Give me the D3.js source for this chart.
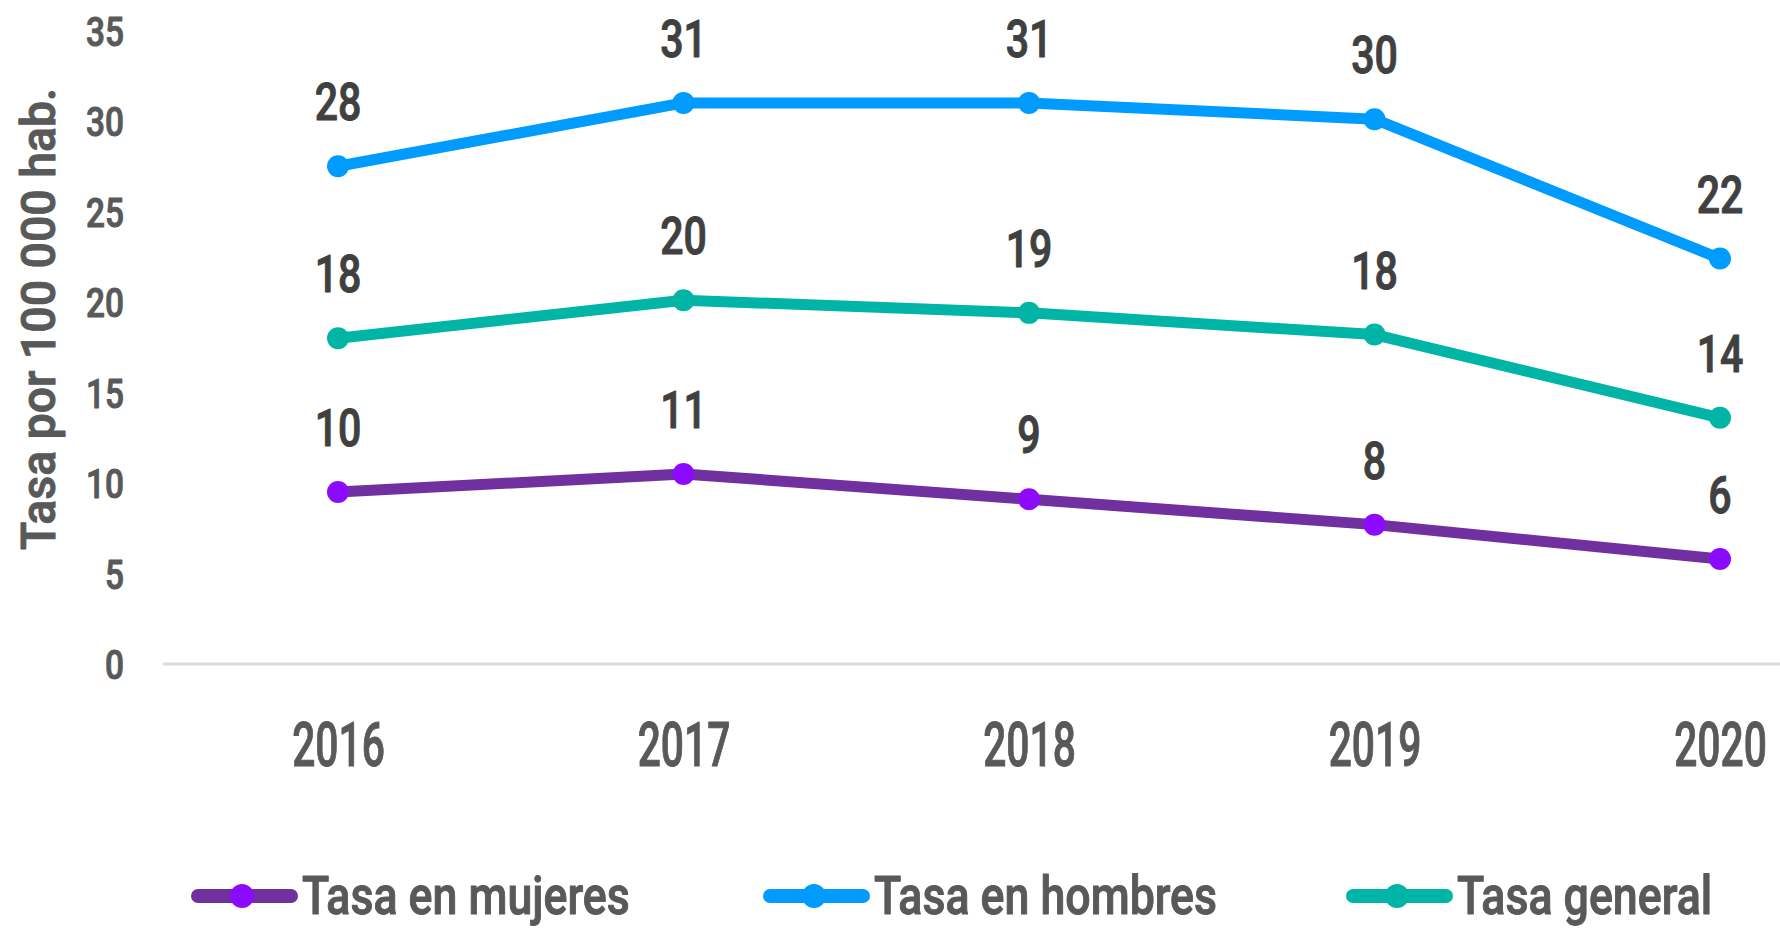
<!DOCTYPE html>
<html>
<head>
<meta charset="utf-8">
<script src="https://cdn.jsdelivr.net/npm/d3@7"></script>
<style>
  body { margin: 0; background: #fff; }
  svg text { font-family: "Roboto", "DejaVu Sans Condensed", sans-serif; font-weight: 500; stroke-width: 1px; stroke-linejoin: round; }
</style>
</head>
<body>
<div id="chart"></div>
<script>
// data
var years = [2016, 2017, 2018, 2019, 2020];
var mujeres = [9.5, 10.5, 9.1, 7.7, 5.8];
var hombres = [27.5, 31.0, 31.0, 30.1, 22.4];
var general = [18.0, 20.1, 19.4, 18.2, 13.6];
var yTicks = [0, 5, 10, 15, 20, 25, 30, 35];
var names = ["Tasa en mujeres", "Tasa en hombres", "Tasa general"];
var lineColors = ["#7030a0", "#009bff", "#00b5a6"];
var dotColors = ["#8c0bff", "#009bff", "#00b5a6"];

var width = 1780, height = 928;

var x = d3.scalePoint().domain(years).range([338, 1720]);
var y = d3.scaleLinear().domain([0, 35]).range([664, 30.5]);

var svg = d3.select("#chart").append("svg")
    .attr("width", width)
    .attr("height", height);

// measure a string in a given size and return horizontal squeeze to hit target width
function squeeze(str, size, target) {
  var t = svg.append("text").attr("font-size", size).text(str);
  var w = t.node().getComputedTextLength();
  t.remove();
  return target / w;
}

var sData = squeeze("20", 52, 46.7),
    sYear = squeeze("2017", 62, 92.7),
    sTick = squeeze("30", 41, 38),
    sLeg = squeeze("Tasa en mujeres", 54, 334),
    sTitle = squeeze("Tasa por 100 000 hab.", 49, 462);

// baseline
svg.append("line")
    .attr("x1", 163).attr("x2", width)
    .attr("y1", y(0)).attr("y2", y(0))
    .attr("stroke", "#d9d9d9")
    .attr("stroke-width", 3);

// y axis
var yAxis = svg.append("g")
    .attr("transform", "translate(124,0)")
    .call(d3.axisLeft(y).tickValues(yTicks).tickSize(0).tickPadding(0));
yAxis.select(".domain").remove();
yAxis.selectAll("text")
    .attr("x", 0).attr("dy", "0.36em")
    .attr("font-size", 41)
    .attr("fill", "#595959")
    .attr("stroke", "#595959")
    .attr("transform", "scale(" + sTick + ",1)");

// x axis
var xAxis = svg.append("g")
    .attr("transform", "translate(0,766)")
    .call(d3.axisBottom(x).tickSize(0).tickPadding(0).tickFormat(d3.format("d")));
xAxis.select(".domain").remove();
xAxis.selectAll("text")
    .attr("y", 0).attr("dy", 0)
    .attr("font-size", 62)
    .attr("fill", "#595959")
    .attr("stroke", "#595959")
    .attr("transform", "scale(" + sYear + ",1)");

// axis title
svg.append("text")
    .attr("transform", "translate(55,319) rotate(-90) scale(" + sTitle + ",1)")
    .attr("text-anchor", "middle")
    .attr("font-size", 49)
    .attr("fill", "#595959")
    .attr("stroke", "#595959")
    .text("Tasa por 100 000 hab.");

var series = [mujeres, hombres, general];

var line = d3.line()
    .x(function(d, i) { return x(years[i]); })
    .y(function(d) { return y(d); });

series.forEach(function(vals, k) {
  var g = svg.append("g");
  g.append("path")
      .datum(vals)
      .attr("d", line)
      .attr("fill", "none")
      .attr("stroke", lineColors[k])
      .attr("stroke-width", 11)
      .attr("stroke-linejoin", "round")
      .attr("stroke-linecap", "round");
  g.selectAll("circle")
      .data(vals)
      .join("circle")
      .attr("cx", function(d, i) { return x(years[i]); })
      .attr("cy", function(d) { return y(d); })
      .attr("r", 11)
      .attr("fill", dotColors[k]);
  g.selectAll("text")
      .data(vals)
      .join("text")
      .attr("transform", function(d, i) {
        return "translate(" + x(years[i]) + "," + (y(d) - 46) + ") scale(" + sData + ",1)";
      })
      .attr("text-anchor", "middle")
      .attr("font-size", 52)
      .attr("fill", "#404040")
      .attr("stroke", "#404040")
      .text(function(d) { return Math.round(d); });
});

// legend
var legX = [192, 764, 1347];
var legend = svg.append("g");
names.forEach(function(n, k) {
  var lg = legend.append("g").attr("transform", "translate(" + legX[k] + ",896)");
  lg.append("line")
      .attr("x1", 6).attr("x2", 99)
      .attr("stroke", lineColors[k])
      .attr("stroke-width", 14)
      .attr("stroke-linecap", "round");
  lg.append("circle")
      .attr("cx", 50).attr("r", 12)
      .attr("fill", dotColors[k]);
  lg.append("text")
      .attr("transform", "translate(110,18) scale(" + sLeg + ",1)")
      .attr("font-size", 53)
      .attr("fill", "#595959")
      .attr("stroke", "#595959")
      .text(n);
});
</script>
</body>
</html>
